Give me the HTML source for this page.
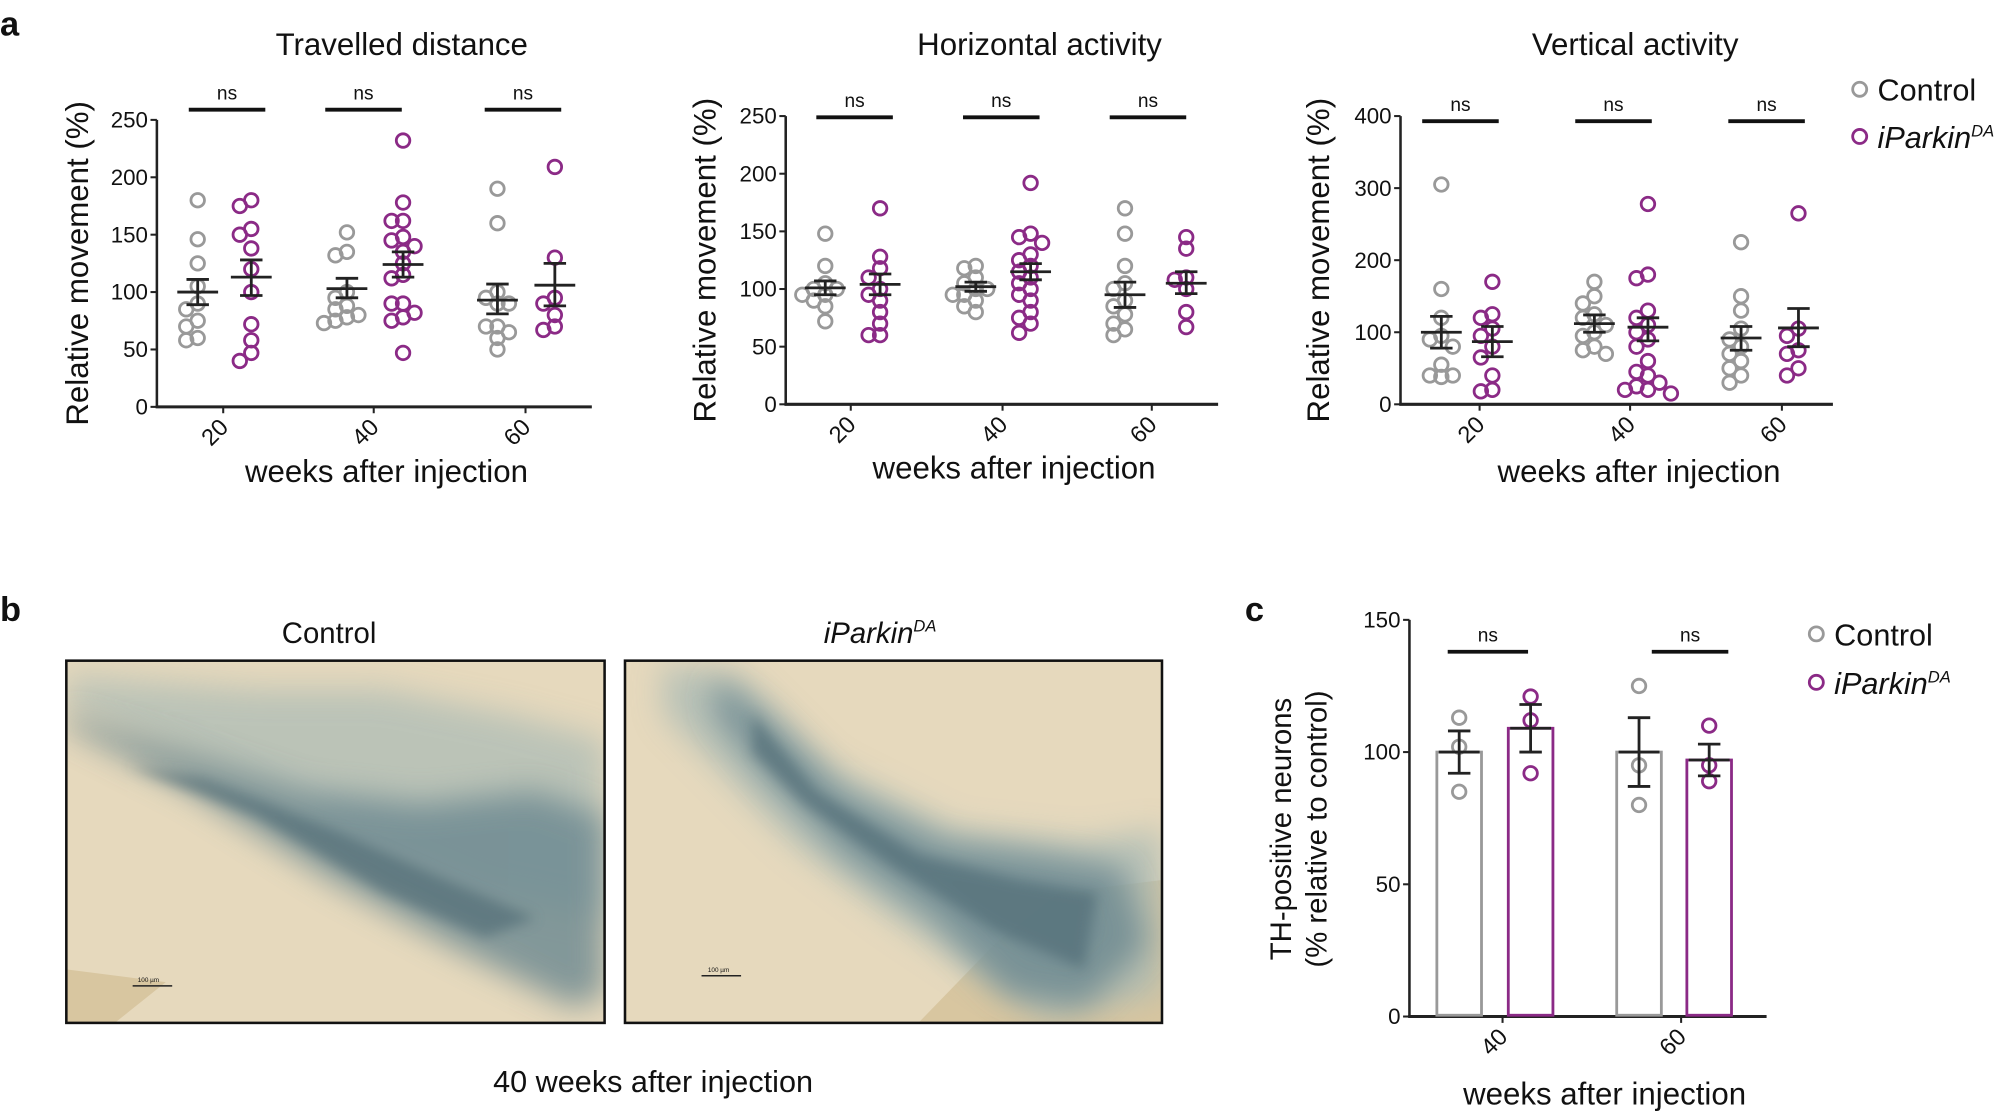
<!DOCTYPE html>
<html><head><meta charset="utf-8"><style>
html,body{margin:0;padding:0;background:#fff}
svg{display:block}
text{font-family:"Liberation Sans",Arial,sans-serif;fill:#111}
</style></head><body>
<svg id="s" width="2000" height="1116" viewBox="0 0 1568 875" preserveAspectRatio="none" xmlns="http://www.w3.org/2000/svg">
<defs>
<filter id="bl" x="-20%" y="-20%" width="140%" height="140%"><feGaussianBlur stdDeviation="12"/></filter>
<filter id="bl2"><feGaussianBlur stdDeviation="5"/></filter>
<clipPath id="c1"><rect x="52" y="518" width="422" height="284"/></clipPath>
<clipPath id="c2"><rect x="490" y="518" width="421" height="284"/></clipPath>
</defs>
<text x="0" y="28" font-size="27" font-weight="bold">a</text>
<text x="0" y="487" font-size="27" font-weight="bold">b</text>
<text x="976" y="487" font-size="27" font-weight="bold">c</text>

<text x="315" y="43" font-size="24.5" text-anchor="middle">Travelled distance</text>
<text x="815" y="43" font-size="24.5" text-anchor="middle">Horizontal activity</text>
<text x="1282" y="43" font-size="24.5" text-anchor="middle">Vertical activity</text>

<g id="plots"></g>

<circle cx="1458" cy="70" r="5.5" fill="none" stroke="#999" stroke-width="2.2"/>
<text x="1472" y="79" font-size="24">Control</text>
<circle cx="1458" cy="107" r="5.5" fill="none" stroke="#8b2a86" stroke-width="2.2"/>
<text x="1472" y="116" font-size="24" font-style="italic">iParkin<tspan font-size="13" dy="-9">DA</tspan></text>

<circle cx="1424" cy="497" r="5.5" fill="none" stroke="#999" stroke-width="2.2"/>
<text x="1438" y="506" font-size="24">Control</text>
<circle cx="1424" cy="535" r="5.5" fill="none" stroke="#8b2a86" stroke-width="2.2"/>
<text x="1438" y="544" font-size="24" font-style="italic">iParkin<tspan font-size="13" dy="-9">DA</tspan></text>

<text x="258" y="504" font-size="23" text-anchor="middle">Control</text>
<text x="690" y="504" font-size="23" text-anchor="middle" font-style="italic">iParkin<tspan font-size="13" dy="-9">DA</tspan></text>
<text x="512" y="856" font-size="24" text-anchor="middle">40 weeks after injection</text>

<g clip-path="url(#c1)">
<rect x="52" y="518" width="422" height="284" fill="#e6d9bd"/>
<polygon points="52,760 52,802 90,802 130,770" fill="#d8c6a0"/>
<polygon points="52,550 140,590 260,650 380,700 474,720 474,580 400,560 300,540 200,540 52,530" fill="#a9bab5" filter="url(#bl)" opacity="0.7"/>
<polygon points="52,570 150,620 260,690 360,745 450,790 474,780 474,640 420,620 330,630 240,620 150,590 52,560" fill="#6a8790" filter="url(#bl)" opacity="0.8"/>
<polygon points="100,600 200,640 300,700 380,735 420,720 350,690 260,650 160,610" fill="#4b6872" filter="url(#bl2)" opacity="0.6"/>
<line x1="104" y1="773" x2="135" y2="773" stroke="#222" stroke-width="1.2"/>
<text x="108" y="770" font-size="5">100 µm</text>
</g>
<rect x="52" y="518" width="422" height="284" fill="none" stroke="#111" stroke-width="2"/>

<g clip-path="url(#c2)">
<rect x="490" y="518" width="421" height="284" fill="#e6d9bd"/>
<polygon points="720,802 780,740 830,700 911,690 911,802" fill="#d8c6a0"/>
<polygon points="520,520 580,530 650,600 750,650 850,660 911,650 911,780 820,800 760,760 700,720 620,660 560,600 520,560" fill="#a9bab5" filter="url(#bl)" opacity="0.75"/>
<polygon points="560,530 600,560 660,620 740,660 820,670 880,680 900,740 850,790 790,780 730,720 660,670 600,610 560,560" fill="#6a8790" filter="url(#bl)" opacity="0.8"/>
<polygon points="590,560 640,620 720,670 800,690 860,700 850,760 780,730 700,680 630,630 590,590" fill="#4b6872" filter="url(#bl2)" opacity="0.6"/>
<line x1="550" y1="765" x2="581" y2="765" stroke="#222" stroke-width="1.2"/>
<text x="555" y="762" font-size="5">100 µm</text>
</g>
<rect x="490" y="518" width="421" height="284" fill="none" stroke="#111" stroke-width="2"/>

<text transform="translate(1012,650) rotate(-90)" font-size="23" text-anchor="middle">TH-positive neurons</text>
<text transform="translate(1040,650) rotate(-90)" font-size="23" text-anchor="middle">(% relative to control)</text>
<text x="1258" y="866" font-size="24.5" text-anchor="middle">weeks after injection</text>
</svg>
<script>
const NS="http://www.w3.org/2000/svg";
const g=document.getElementById('plots');
const GREY="#999",PUR="#8b2a86",DK="#222";
function el(t,a,txt){const e=document.createElementNS(NS,t);for(const k in a)e.setAttribute(k,a[k]);if(txt!==undefined)e.textContent=txt;g.appendChild(e);return e;}
function ln(x1,y1,x2,y2,c,w){el('line',{x1,y1,x2,y2,stroke:c||DK,'stroke-width':w||2.2});}
function swarm(cx,vals,ymap,col){
  const placed=[];
  vals.slice().sort((a,b)=>b-a).forEach(v=>{
    const y=ymap(v);let offs=[0,-9,9,-18,18,-13,13,-4,4];let done=false;
    for(const o of offs){const x=cx+o;
      if(placed.every(p=>Math.hypot(p[0]-x,p[1]-y)>=8.5)){placed.push([x,y]);done=true;break;}}
    if(!done)placed.push([cx+(placed.length%2?6:-6),y]);
  });
  placed.forEach(p=>el('circle',{cx:p[0],cy:p[1],r:5.3,fill:'none',stroke:col,'stroke-width':2.2}));
}
function errbar(cx,m,lo,hi,ymap,w){
  ln(cx-w,ymap(m),cx+w,ymap(m));ln(cx,ymap(lo),cx,ymap(hi));
  ln(cx-w*0.55,ymap(lo),cx+w*0.55,ymap(lo));ln(cx-w*0.55,ymap(hi),cx+w*0.55,ymap(hi));
}
function panel(o){
  const ymap=v=>o.y0-(v/o.max)*(o.y0-o.ytop);
  ln(o.ax,o.ytop,o.ax,o.y0,DK,2);ln(o.ax-1,o.y0,o.xend,o.y0,DK,2.4);
  o.ticks.forEach(t=>{ln(o.ax-5,ymap(t),o.ax,ymap(t),DK,1.6);
    el('text',{x:o.ax-7,y:ymap(t)+6,'font-size':17.5,'text-anchor':'end'},String(t));});
  o.groups.forEach(gr=>{
    ln(gr.tick,o.y0,gr.tick,o.y0+5,DK,1.6);
    el('text',{transform:`translate(${gr.tick+5},${o.y0+17}) rotate(-45)`,'font-size':18.5,'text-anchor':'end'},gr.label);
    if(gr.bars){gr.bars.forEach((b,i)=>{el('rect',{x:b.x-17.5,y:ymap(b.m),width:35,height:o.y0-ymap(b.m)-1,fill:'none',stroke:i?PUR:GREY,'stroke-width':2.2});});}
    swarm(gr.gx,gr.g,ymap,GREY);swarm(gr.px,gr.p,ymap,PUR);
    errbar(gr.gx,...gr.ge,ymap,o.ew);errbar(gr.px,...gr.pe,ymap,o.ew);
    ln(gr.ns[0],o.nsy,gr.ns[1],o.nsy,"#111",3);
    el('text',{x:(gr.ns[0]+gr.ns[1])/2,y:o.nsy-8,'font-size':15,'text-anchor':'middle'},'ns');
  });
  if(o.ylab){el('text',{transform:`translate(${o.ylx},${(o.y0+o.ytop)/2}) rotate(-90)`,'font-size':24.5,'text-anchor':'middle'},o.ylab);}
  if(o.xlab){el('text',{x:o.xlx,y:o.xly,'font-size':24.5,'text-anchor':'middle'},o.xlab);}
}
const YL="Relative movement (%)",XL="weeks after injection";
panel({ax:123,ytop:94,y0:319,max:250,xend:464,ticks:[0,50,100,150,200,250],ew:16,nsy:86,
 ylab:YL,ylx:69,xlab:XL,xlx:303,xly:378,
 groups:[
 {tick:175,label:'20',gx:155,px:197,ns:[148,208],
  g:[180,146,125,105,90,85,75,70,60,58],p:[175,180,155,150,138,120,100,72,58,47,40],ge:[100,89,111],pe:[113,97,128]},
 {tick:293,label:'40',gx:272,px:316,ns:[255,315],
  g:[152,132,135,100,95,85,80,75,78,73,88],p:[232,178,162,162,148,145,140,135,125,115,112,90,90,82,78,75,47],ge:[103,95,112],pe:[124,113,135]},
 {tick:412,label:'60',gx:390,px:435,ns:[380,440],
  g:[190,160,100,95,90,90,70,70,65,60,50],p:[209,130,95,90,80,67,70],ge:[93,81,107],pe:[106,88,125]}]});
panel({ax:616,ytop:91,y0:317,max:250,xend:955,ticks:[0,50,100,150,200,250],ew:16,nsy:92,
 ylab:YL,ylx:561,xlab:XL,xlx:795,xly:375,
 groups:[
 {tick:667,label:'20',gx:647,px:690,ns:[640,700],
  g:[148,120,105,100,100,95,95,90,85,72],p:[170,128,118,110,100,95,90,80,70,60,60],ge:[101,95,107],pe:[104,95,113]},
 {tick:786,label:'40',gx:765,px:808,ns:[755,815],
  g:[120,118,110,105,100,100,95,95,90,85,80],p:[192,148,145,140,130,125,120,115,110,105,100,95,90,80,75,70,62],ge:[102,98,106],pe:[115,108,122]},
 {tick:903,label:'60',gx:882,px:930,ns:[870,930],
  g:[170,148,120,105,100,90,85,78,70,65,60],p:[145,135,110,108,100,80,67],ge:[95,84,106],pe:[105,96,115]}]});
panel({ax:1098,ytop:91,y0:317,max:400,xend:1437,ticks:[0,100,200,300,400],ew:16,nsy:95,
 ylab:YL,ylx:1042,xlab:XL,xlx:1285,xly:378,
 groups:[
 {tick:1160,label:'20',gx:1130,px:1170,ns:[1115,1175],
  g:[305,160,120,95,90,80,55,40,40,38],p:[170,125,120,105,95,80,65,40,20,18],ge:[100,78,122],pe:[87,66,108]},
 {tick:1278,label:'40',gx:1250,px:1292,ns:[1235,1295],
  g:[170,150,140,125,120,110,100,95,80,70,75],p:[278,180,175,130,120,110,100,90,80,60,45,40,30,25,20,20,15],ge:[112,100,124],pe:[107,88,120]},
 {tick:1397,label:'60',gx:1365,px:1410,ns:[1355,1415],
  g:[225,150,130,105,90,80,70,60,50,40,30],p:[265,105,95,75,70,50,40],ge:[92,75,108],pe:[106,80,133]}]});
panel({ax:1105,ytop:486,y0:797,max:150,xend:1385,ticks:[0,50,100,150],ew:16,nsy:511,
 groups:[
 {tick:1178,label:'40',gx:1144,px:1200,ns:[1135,1198],bars:[{x:1144,m:100},{x:1200,m:109}],
  g:[113,102,85],p:[121,112,92],ge:[100,92,108],pe:[109,100,118]},
 {tick:1318,label:'60',gx:1285,px:1340,ns:[1295,1355],bars:[{x:1285,m:100},{x:1340,m:97}],
  g:[125,95,80],p:[110,95,89],ge:[100,87,113],pe:[97,91,103]}]});
</script>
</body></html>
